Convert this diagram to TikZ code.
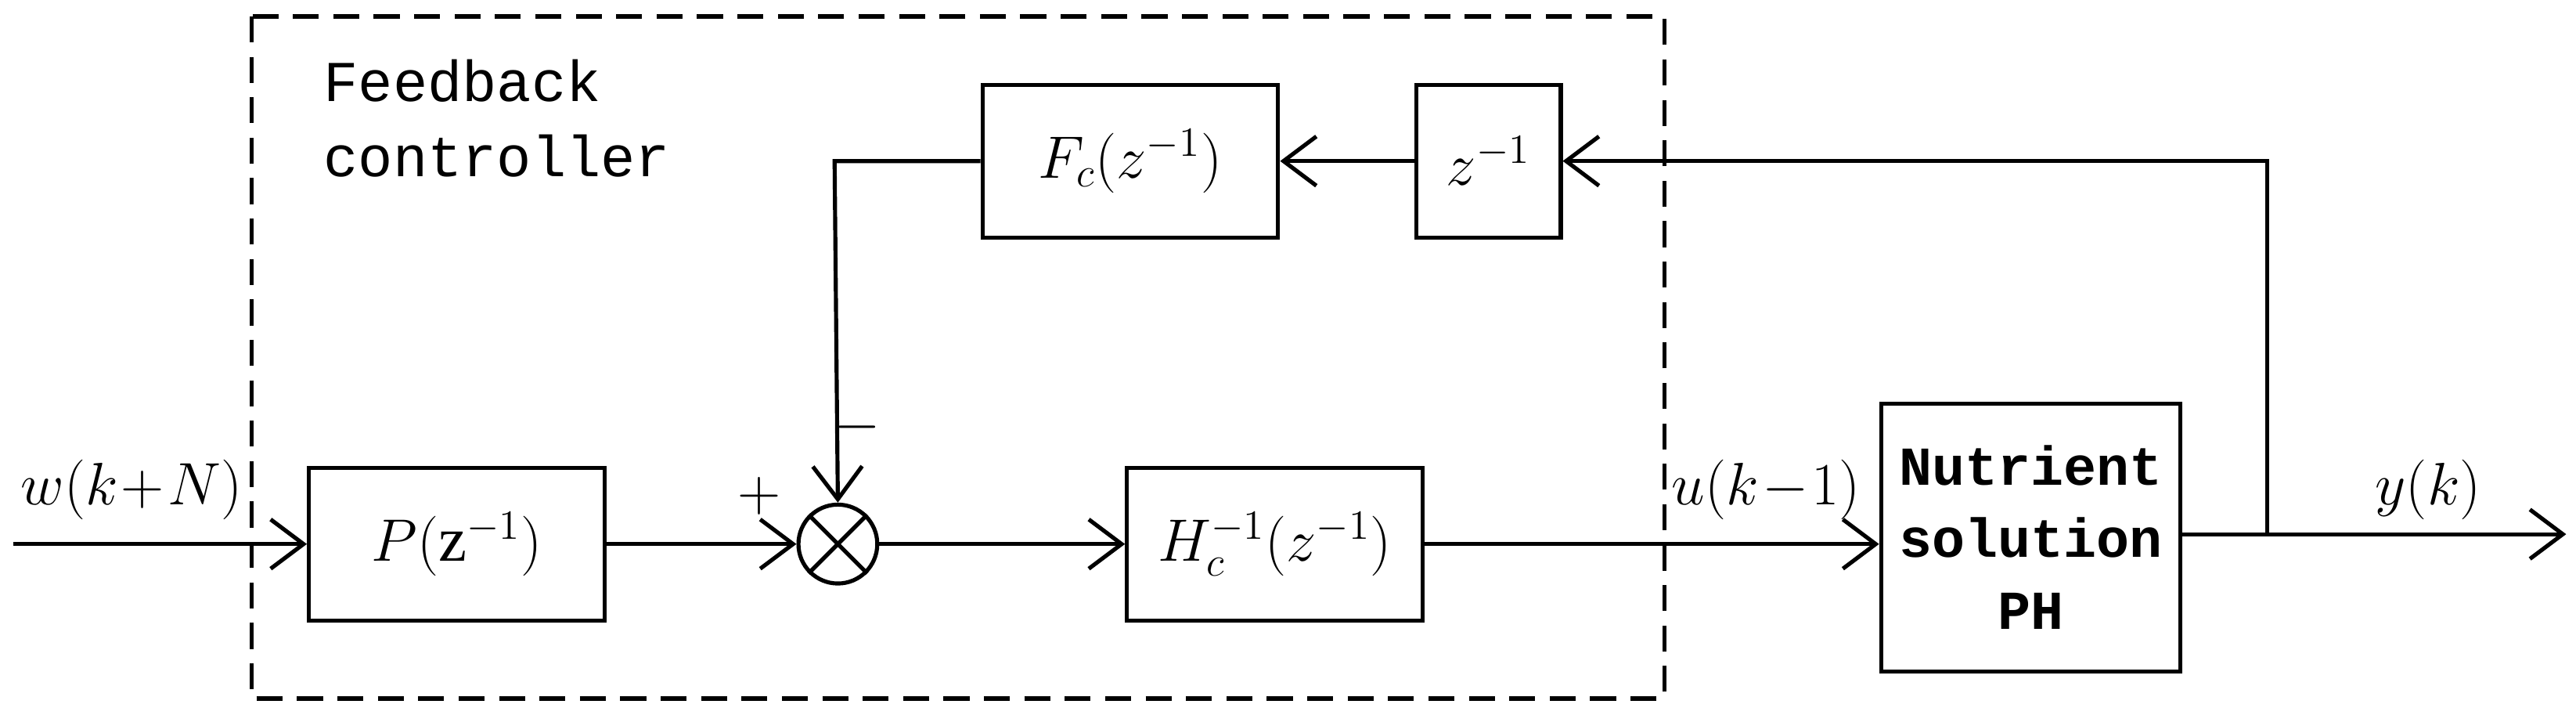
\documentclass[tikz,border=0pt]{standalone}
\usepackage{fontspec}
\setmainfont{Liberation Serif}
\newfontfamily\monofont{Liberation Mono}
\usetikzlibrary{positioning,arrows.meta}
\begin{document}
\begin{tikzpicture}[x=0.02cm,y=-0.02cm,line width=1.4pt,
  >={Straight Barb[length=4mm,width=6mm]},
  blk/.style={draw,minimum width=3.6cm,minimum height=1.86cm,font=\fontsize{22}{26}\selectfont},
  lbl/.style={font=\fontsize{22}{26}\selectfont,inner sep=0pt},
  txt/.style={font=\monofont\fontsize{20}{26}\selectfont,align=center}]
\useasboundingbox (0,0) rectangle (1568,435);

\draw[dash pattern=on 9pt off 5pt] (153,10) rectangle (1013,425);
\node[txt,align=left,anchor=west] (fb) at (190,72) {Feedback\\controller};

\node[blk] (fc) at (688,98) {$F_c(z^{-1})$};
\node[blk,minimum width=1.76cm] (zd) at (906,98) {$z^{-1}$};
\node[blk] (p) at (278,331) {$P(\mathrm{z}^{-1})$};
\node[draw,circle,minimum size=0.96cm,inner sep=0pt] (sum) at (510,331) {};
\draw (sum.45) -- (sum.225) (sum.135) -- (sum.315);
\node[blk] (h) at (776,331) {$H_c^{-1}(z^{-1})$};
\node[blk,txt,font=\monofont\bfseries\fontsize{19}{25}\selectfont,minimum width=3.64cm,minimum height=3.26cm] (np) at (1236,327) {Nutrient\\solution\\PH};

\coordinate (in) at (8,331);
\coordinate (out) at (1562,325);
\coordinate (br) at (1380,325);
\coordinate (bt) at (1380,98);
\coordinate (fl) at (508,98);

\draw[->] (in) -- (p.west);
\draw[->] (p.east) -- (sum.west);
\draw[->] (sum.east) -- (h.west);
\draw[->] (h.east) -- (h.east -| np.west);
\draw[->] (br -| np.east) -- (out);
\draw[->] (br) -- (bt) -- (zd.east);
\draw[->] (zd.west) -- (fc.east);
\draw[->] (fc.west) -- (fl) -- (sum.north);

\node[lbl] (w) at (80,298) {$w(k\!+\!N)$};
\node[lbl] (u) at (1075,298) {$u(k\!-\!1)$};
\node[lbl] (y) at (1478,298) {$y(k)$};
\node[lbl] (plus) at (462,302) {$+$};
\node[lbl] (minus) at (522,260) {$-$};
\end{tikzpicture}
\end{document}
